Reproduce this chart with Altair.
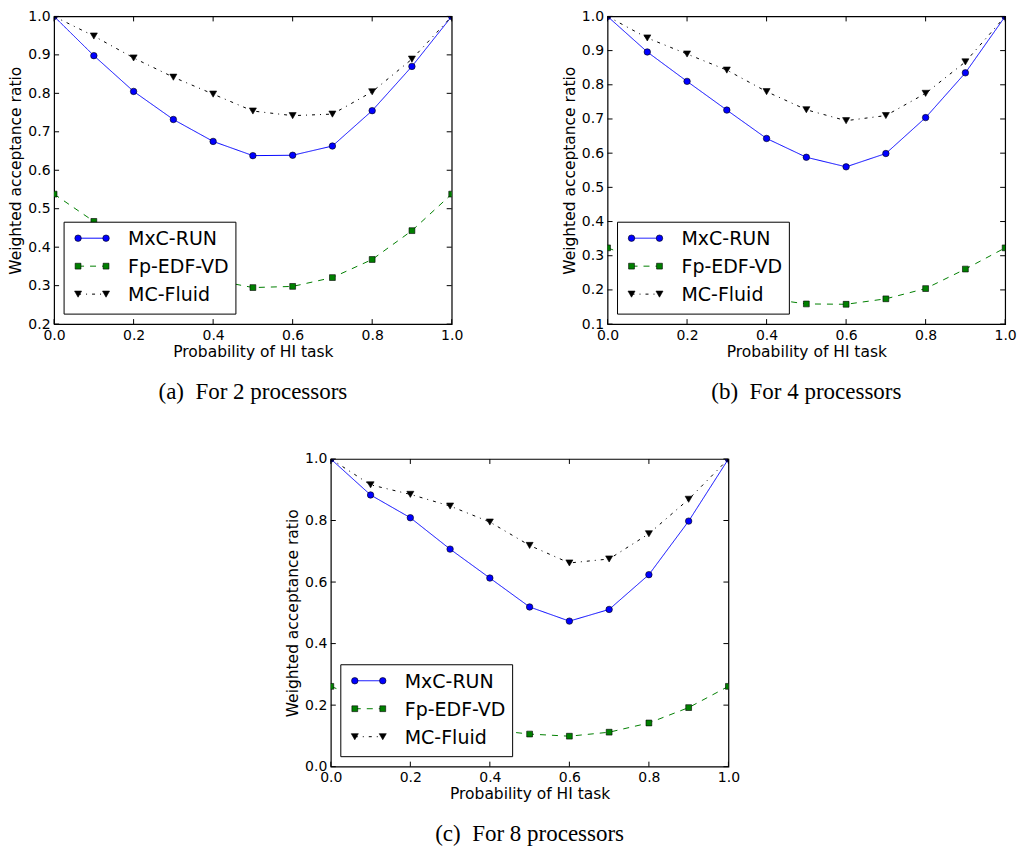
import altair as alt
import pandas as pd

XS = [0.0, 0.1, 0.2, 0.3, 0.4, 0.5, 0.6, 0.7, 0.8, 0.9, 1.0]
SERIES = ["MxC-RUN", "Fp-EDF-VD", "MC-Fluid"]

# (a) 2 processors
A_MXC = [1.0, 0.898, 0.805, 0.732, 0.675, 0.638, 0.639, 0.663, 0.755, 0.870, 1.0]
A_FP = [0.538, 0.467, 0.410, 0.355, 0.315, 0.295, 0.298, 0.321, 0.368, 0.443, 0.538]
A_MCF = [1.0, 0.949, 0.892, 0.842, 0.798, 0.754, 0.742, 0.746, 0.804, 0.889, 1.0]

# (b) 4 processors
B_MXC = [1.0, 0.896, 0.810, 0.726, 0.643, 0.588, 0.560, 0.599, 0.704, 0.835, 1.0]
B_FP = [0.323, 0.280, 0.240, 0.205, 0.175, 0.159, 0.158, 0.174, 0.204, 0.261, 0.323]
B_MCF = [1.0, 0.937, 0.890, 0.843, 0.780, 0.727, 0.695, 0.710, 0.775, 0.867, 1.0]

# (c) 8 processors
C_MXC = [1.0, 0.883, 0.809, 0.707, 0.613, 0.519, 0.473, 0.511, 0.624, 0.798, 1.0]
C_FP = [0.261, 0.210, 0.170, 0.140, 0.120, 0.106, 0.099, 0.112, 0.142, 0.192, 0.261]
C_MCF = [1.0, 0.916, 0.885, 0.847, 0.795, 0.719, 0.662, 0.675, 0.757, 0.869, 1.0]

X_TICKS = [0.0, 0.2, 0.4, 0.6, 0.8, 1.0]
A_Y_TICKS = [0.2, 0.3, 0.4, 0.5, 0.6, 0.7, 0.8, 0.9, 1.0]
B_Y_TICKS = [0.1, 0.2, 0.3, 0.4, 0.5, 0.6, 0.7, 0.8, 0.9, 1.0]
C_Y_TICKS = [0.0, 0.2, 0.4, 0.6, 0.8, 1.0]

CAPTIONS = ["(a)\u00a0\u00a0For 2 processors", "(b)\u00a0\u00a0For 4 processors",
            "(c)\u00a0\u00a0For 8 processors"]

W, H = 398, 308
COLORS = ["#0000ff", "#008000", "#000000"]
DASHES = [[1, 0], [6, 6], [3, 5, 1, 5]]
SHAPES = ["circle", "square", "triangle-down"]
SIZES = [42, 34, 50]
FONT = "DejaVu Sans"


def one_row():
    return alt.Data(values=[{"k": 0}])


def panel(mxc, fp, mcf, yticks, caption):
    ymin, ymax = yticks[0], yticks[-1]
    x_axis = alt.Axis(values=X_TICKS, format=".1f", title="Probability of HI task",
                      grid=False, ticks=False, domain=False, labelPadding=4,
                      titlePadding=2, labelFlush=False, labelOverlap=False)
    y_axis = alt.Axis(values=yticks, format=".1f", title="Weighted acceptance ratio",
                      grid=False, ticks=False, domain=False, labelPadding=4, titlePadding=4,
                      labelFlush=False, labelOverlap=False)
    x_scale = alt.Scale(domain=[0, 1], nice=False)
    y_scale = alt.Scale(domain=[ymin, ymax], nice=False)
    layers = []
    for i, vals in enumerate([mxc, fp, mcf]):
        df = pd.DataFrame({"x": XS, "y": vals})
        base = alt.Chart(df).encode(
            x=alt.X("x:Q", scale=x_scale, axis=x_axis),
            y=alt.Y("y:Q", scale=y_scale, axis=y_axis),
        )
        layers.append(base.mark_line(color=COLORS[i], strokeDash=DASHES[i], strokeWidth=1,
                                     clip=True))
        layers.append(base.mark_point(shape=SHAPES[i], filled=True, fill=COLORS[i],
                                      stroke="black", strokeWidth=0.6, size=SIZES[i],
                                      opacity=1, clip=True))
    # inward ticks (matplotlib style) on all four sides
    xt = alt.Chart(pd.DataFrame({"x": X_TICKS}))
    xenc = alt.X("x:Q", scale=x_scale, axis=x_axis)
    layers.append(xt.mark_rule(color="black").encode(x=xenc, y=alt.value(0), y2=alt.value(5)))
    layers.append(xt.mark_rule(color="black").encode(x=xenc, y=alt.value(H), y2=alt.value(H - 5)))
    yt = alt.Chart(pd.DataFrame({"y": yticks}))
    yenc = alt.Y("y:Q", scale=y_scale, axis=y_axis)
    layers.append(yt.mark_rule(color="black").encode(y=yenc, x=alt.value(0), x2=alt.value(5)))
    layers.append(yt.mark_rule(color="black").encode(y=yenc, x=alt.value(W), x2=alt.value(W - 5)))
    # legend box
    lx0, lx1, ly0, ly1 = 10, 182, 206, 298
    layers.append(alt.Chart(one_row()).mark_rect(fill="white", stroke="black", strokeWidth=1)
                  .encode(x=alt.value(lx0), x2=alt.value(lx1), y=alt.value(ly0), y2=alt.value(ly1)))
    for i, name in enumerate(SERIES):
        yy = 222 + 28 * i
        layers.append(alt.Chart(one_row()).mark_rule(color=COLORS[i], strokeDash=DASHES[i],
                                                      strokeWidth=1)
                      .encode(x=alt.value(24), x2=alt.value(52), y=alt.value(yy)))
        for px in (24, 52):
            layers.append(alt.Chart(one_row()).mark_point(shape=SHAPES[i], filled=True,
                                                           fill=COLORS[i], stroke="black",
                                                           strokeWidth=0.6, size=SIZES[i],
                                                           opacity=1)
                          .encode(x=alt.value(px), y=alt.value(yy)))
        layers.append(alt.Chart(one_row()).mark_text(align="left", baseline="middle",
                                                      font=FONT, fontSize=19, color="black")
                      .encode(x=alt.value(74), y=alt.value(yy + 1), text=alt.value(name)))
    return alt.layer(*layers).properties(
        width=W, height=H,
        title=alt.TitleParams(caption, orient="bottom", anchor="middle", font="Liberation Serif",
                              fontSize=23, fontWeight="normal", color="black", offset=21),
    )


pa = panel(A_MXC, A_FP, A_MCF, A_Y_TICKS, CAPTIONS[0])
pb = panel(B_MXC, B_FP, B_MCF, B_Y_TICKS, CAPTIONS[1])
pc = panel(C_MXC, C_FP, C_MCF, C_Y_TICKS, CAPTIONS[2])

chart = alt.vconcat(
    alt.hconcat(pa, pb, spacing=98),
    pc,
    spacing=46,
    center=True,
).properties(padding=0, background="white").configure_view(
    stroke="black", strokeWidth=1.2
).configure_axis(
    labelFont=FONT, labelFontSize=14, labelColor="black",
    titleFont=FONT, titleFontSize=15.5, titleColor="black", titleFontWeight="normal",
)

chart.save("out.html", embed_options={"renderer": "svg", "actions": False})
